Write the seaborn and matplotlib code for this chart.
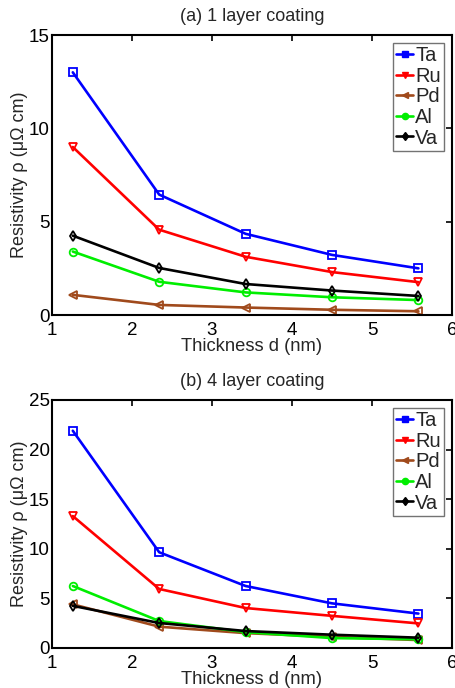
import numpy as np
import pandas as pd
import matplotlib
matplotlib.use("Agg")
import matplotlib.pyplot as plt
from matplotlib.lines import Line2D
import seaborn as sns

# Film thickness (nm)
thickness = [1.26, 2.34, 3.42, 4.50, 5.58]
metals = ["Ta", "Ru", "Pd", "Al", "Va"]

# Resistivity (micro-ohm cm), 1 layer coating
one_ta = [13.0, 6.45, 4.35, 3.22, 2.50]
one_ru = [9.0, 4.57, 3.12, 2.30, 1.76]
one_pd = [1.08, 0.54, 0.40, 0.28, 0.20]
one_al = [3.40, 1.78, 1.21, 0.95, 0.80]
one_va = [4.25, 2.52, 1.66, 1.31, 1.02]

# Resistivity (micro-ohm cm), 4 layer coating
four_ta = [21.9, 9.65, 6.25, 4.50, 3.47]
four_ru = [13.3, 5.95, 4.03, 3.24, 2.48]
four_pd = [4.40, 2.15, 1.50, 1.12, 0.80]
four_al = [6.25, 2.72, 1.60, 1.00, 0.88]
four_va = [4.25, 2.52, 1.71, 1.34, 1.04]

colors = {"Ta": "#0000ff", "Ru": "#ff0000", "Pd": "#a04a1c", "Al": "#00ee00", "Va": "#000000"}
markers = {"Ta": "s", "Ru": "v", "Pd": "<", "Al": "o", "Va": "d"}

panels = [
    ("(a) 1 layer coating", [one_ta, one_ru, one_pd, one_al, one_va], [0, 15], [0, 5, 10, 15]),
    ("(b) 4 layer coating", [four_ta, four_ru, four_pd, four_al, four_va], [0, 25], [0, 5, 10, 15, 20, 25]),
]

sns.set_style("white")
plt.rcParams["font.family"] = ["Liberation Sans", "DejaVu Sans"]

fig = plt.figure(figsize=(4.55, 6.88), dpi=100)
axes_pos = [
    [52 / 455, 1 - 315 / 688, 400 / 455, 280 / 688],
    [52 / 455, 1 - 648 / 688, 400 / 455, 248 / 688],
]

for pos, (title, series, ylim, yticks) in zip(axes_pos, panels):
    ax = fig.add_axes(pos)
    df = pd.DataFrame({
        "d": np.tile(thickness, len(metals)),
        "rho": np.concatenate(series),
        "metal": np.repeat(metals, len(thickness)),
    })
    for m in metals:
        sub = df[df["metal"] == m]
        sns.lineplot(data=sub, x="d", y="rho", ax=ax, color=colors[m],
                     marker=markers[m], markersize=5.5, mec=colors[m], mew=1.3,
                     mfc="none", lw=1.9, label=m, legend=False, sort=False)

    ax.set_xlim(1, 6)
    ax.set_ylim(*ylim)
    ax.set_xticks([1, 2, 3, 4, 5, 6])
    ax.set_yticks(yticks)
    ax.tick_params(direction="in", length=4, width=1.2, top=True, right=True,
                   labelsize=13.5, pad=1.5, colors="black")
    ax.tick_params(axis="x", pad=5)
    for s in ax.spines.values():
        s.set_visible(True)
        s.set_color("black")
        s.set_linewidth(1.5)
    ax.set_title(title, fontsize=13, pad=10)
    ax.set_xlabel("Thickness d (nm)", fontsize=13.2, labelpad=-1)
    ax.set_ylabel("Resistivity ρ (μΩ cm)", fontsize=13, labelpad=1)

    handles = [Line2D([], [], color=colors[m], marker=markers[m], markersize=4.5,
                      mec=colors[m], mfc=colors[m], lw=1.9) for m in metals]
    leg = ax.legend(handles, metals, loc="upper right", fontsize=14.5,
                    handlelength=0.85, handletextpad=0.1, labelspacing=0.08,
                    borderpad=0.15, borderaxespad=0.4, fancybox=False,
                    framealpha=1, edgecolor="0.45")
    leg.get_frame().set_linewidth(1.0)

fig.savefig("out.png", dpi=100)
